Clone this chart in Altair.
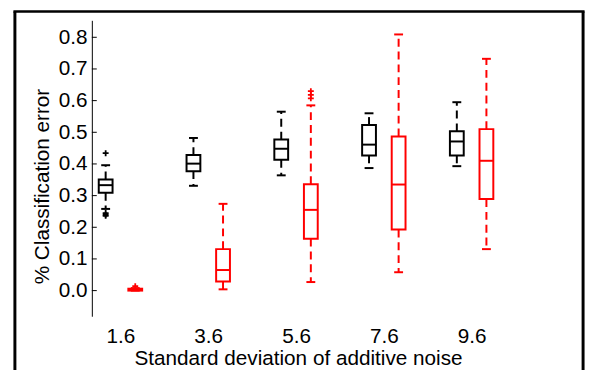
import altair as alt
import pandas as pd

# ---- data ----
noise_labels = ["1.6", "3.6", "5.6", "7.6", "9.6"]

black_q1 = [0.309, 0.377, 0.413, 0.427, 0.427]
black_med = [0.333, 0.401, 0.448, 0.461, 0.471]
black_q3 = [0.351, 0.428, 0.477, 0.523, 0.503]
black_wlo = [0.258, 0.331, 0.364, 0.387, 0.393]
black_whi = [0.396, 0.482, 0.565, 0.560, 0.595]
black_out_group = [1, 1, 1, 1]
black_out_vals = [0.434, 0.245, 0.240, 0.236]

red_q1 = [0.000, 0.029, 0.164, 0.193, 0.289]
red_med = [0.003, 0.065, 0.255, 0.335, 0.410]
red_q3 = [0.006, 0.131, 0.336, 0.487, 0.510]
red_wlo = [0.000, 0.004, 0.027, 0.058, 0.131]
red_whi = [0.008, 0.274, 0.585, 0.809, 0.732]
red_out_group = [1, 3, 3, 3]
red_out_vals = [0.014, 0.630, 0.618, 0.607]

y_ticks = [0.0, 0.1, 0.2, 0.3, 0.4, 0.5, 0.6, 0.7, 0.8]

# ---- layout helpers (data units of the x scale) ----
PX = 89.0            # pixels per group
OFF = 15 / PX        # series offset from group centre
BOX = 7 / PX         # half box width
CAP = 4.5 / PX       # half whisker-cap width

series = [
    ("black", -OFF, black_q1, black_med, black_q3, black_wlo, black_whi),
    ("red", OFF, red_q1, red_med, red_q3, red_wlo, red_whi),
]
rows = []
for color, off, q1, med, q3, wlo, whi in series:
    for i in range(len(noise_labels)):
        pos = i + 1 + off
        rows.append(dict(color=color, pos=pos, bl=pos - BOX, br=pos + BOX,
                         cl=pos - CAP, cr=pos + CAP, q1=q1[i], med=med[i],
                         q3=q3[i], wlo=wlo[i], whi=whi[i]))
df = pd.DataFrame(rows)

orows = []
for color, off, grp, vals in [("black", -OFF, black_out_group, black_out_vals),
                              ("red", OFF, red_out_group, red_out_vals)]:
    for g, v in zip(grp, vals):
        orows.append(dict(color=color, pos=g + off, v=v))
odf = pd.DataFrame(orows)

tdf = pd.DataFrame({"v": y_ticks})

FONT = "Liberation Sans"
FS = 21
x_dom = [1 - 29 / PX, 1 - 29 / PX + 440 / PX]
y_dom = [-0.081, 0.8536]

label_expr = "[" + ",".join("'%s'" % s for s in noise_labels) + "][datum.value - 1]"

xscale = alt.Scale(domain=x_dom, nice=False, zero=False)
yscale = alt.Scale(domain=y_dom, nice=False, zero=False)

x_axis = alt.Axis(values=[1, 2, 3, 4, 5], labelExpr=label_expr, domain=False,
                  ticks=False, grid=False, labelPadding=10, labelFontSize=FS,
                  labelColor="black", labelFont=FONT, labelOverlap=False,
                  labelFlush=False, labelBound=False,
                  title="Standard deviation of additive noise",
                  titleFont=FONT, titleFontSize=FS, titleFontWeight="normal",
                  titleColor="black", titleX=209, titleY=49,
                  titleBaseline="alphabetic", titleAlign="center")
y_axis = alt.Axis(values=y_ticks, format=".1f", tickSize=0, grid=False,
                  labelPadding=5, labelFontSize=FS, labelColor="black",
                  labelFont=FONT, labelOverlap=False, labelFlush=False,
                  labelBound=False, domainColor="black", domainWidth=1,
                  title="% Classification error", titleFont=FONT,
                  titleFontSize=FS, titleFontWeight="normal", titleColor="black",
                  titleAngle=270, titleX=-50, titleY=168,
                  titleBaseline="middle", titleAlign="center")


def X(field):
    return alt.X(field, scale=xscale, axis=x_axis)


def Y(field):
    return alt.Y(field, scale=yscale, axis=y_axis)


col = alt.Color("color:N", scale=None)
stroke = alt.Stroke("color:N", scale=None)
base = alt.Chart(df)

box = base.mark_rect(fillOpacity=0, strokeWidth=2).encode(
    x=X("bl:Q"), x2="br:Q", y=Y("q1:Q"), y2="q3:Q", stroke=stroke)
median = base.mark_rule(strokeWidth=2).encode(
    x=X("bl:Q"), x2="br:Q", y=Y("med:Q"), color=col)
wh_up = base.mark_rule(strokeWidth=2, strokeDash=[8, 5]).encode(
    x=X("pos:Q"), y=Y("q3:Q"), y2="whi:Q", color=col)
wh_lo = base.mark_rule(strokeWidth=2, strokeDash=[8, 5]).encode(
    x=X("pos:Q"), y=Y("q1:Q"), y2="wlo:Q", color=col)
cap_up = base.mark_rule(strokeWidth=2).encode(
    x=X("cl:Q"), x2="cr:Q", y=Y("whi:Q"), color=col)
cap_lo = base.mark_rule(strokeWidth=2).encode(
    x=X("cl:Q"), x2="cr:Q", y=Y("wlo:Q"), color=col)
outl = alt.Chart(odf).mark_point(shape="M-1,0H1M0,-1V1", size=36, filled=False,
                                 strokeWidth=1.8, opacity=1).encode(
    x=X("pos:Q"), y=Y("v:Q"), stroke=stroke)

yticks = alt.Chart(tdf).mark_rule(color="black", strokeWidth=1).encode(
    x=alt.value(0), x2=alt.value(5), y=Y("v:Q"))

one = pd.DataFrame({"a": [0]})
frame_l = alt.Chart(one).mark_rule(color="black", strokeWidth=3).encode(
    x=alt.value(-78), y=alt.value(-9), y2=alt.value(360))
frame_r = alt.Chart(one).mark_rule(color="black", strokeWidth=3).encode(
    x=alt.value(498), y=alt.value(-9), y2=alt.value(360))
frame_t = alt.Chart(one).mark_rule(color="black", strokeWidth=2.5).encode(
    x=alt.value(-79.5), x2=alt.value(499.5), y=alt.value(-9))

chart = alt.layer(box, wh_up, wh_lo, cap_up, cap_lo, median, outl, yticks,
                  frame_l, frame_r, frame_t).properties(
    width=440, height=300,
    autosize=alt.AutoSizeParams(type="none"),
    padding={"left": 85, "top": 10, "right": 64, "bottom": 52},
    background="white",
).configure_view(stroke=None)

chart.save("out.html", embed_options={"renderer": "svg", "actions": False})
